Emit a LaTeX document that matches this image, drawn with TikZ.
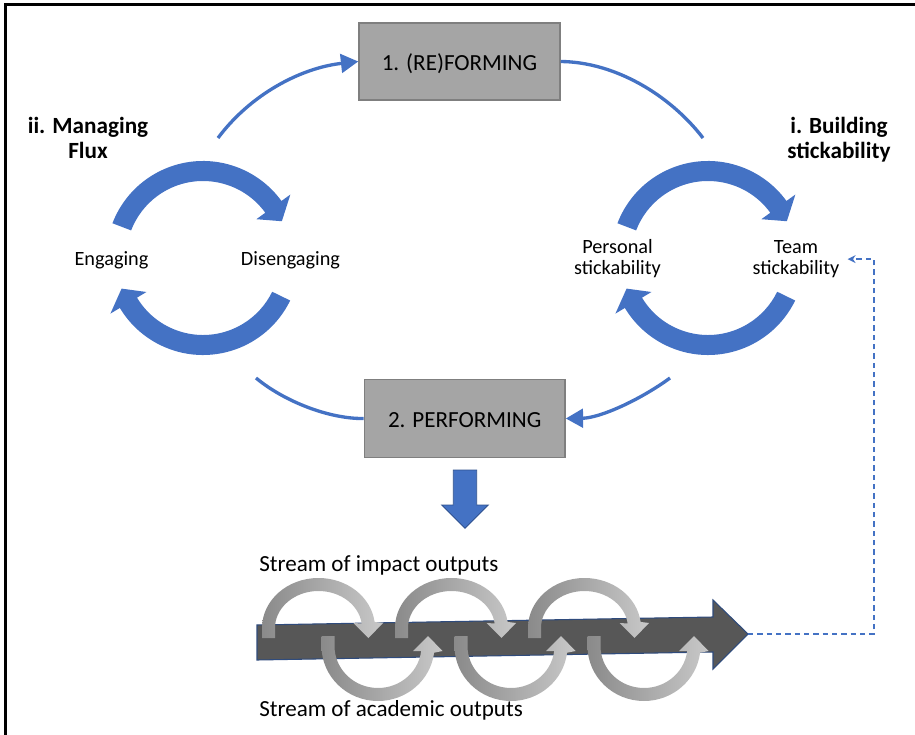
\documentclass[tikz,border=0pt]{standalone}
\usepackage{fontspec}
\setmainfont{Carlito}
\usetikzlibrary{arrows.meta}
\definecolor{flowblue}{HTML}{4472C4}
\definecolor{flowblueline}{HTML}{2F528F}
\definecolor{boxfill}{HTML}{A5A5A5}
\definecolor{boxline}{HTML}{7F7F7F}
\definecolor{streambody}{HTML}{575757}
\definecolor{streamline}{HTML}{2F4B7C}
\definecolor{loopdark}{HTML}{8A8A8A}
\definecolor{looplight}{HTML}{C8C8C8}
\newcommand{\bandarc}[4]{%
  \fill[flowblue, shift={#1}, yscale=-1] (#2:97) arc[start angle=#2, end angle=#3, radius=97]
    -- (#3:108) -- (#4:87) -- (#3:66) -- (#3:77) arc[start angle=#3, end angle=#2, radius=77] -- cycle;}
\newcommand{\upperloop}[1]{%
  \path[loopband, shift={(#1,628)}] (-56.5,10) -- (-56.5,0)
    arc[start angle=180, end angle=353, x radius=56.5, y radius=50]
    -- (64.5,-5) -- (50,10) -- (35,-5) -- ({43.5*cos(353)},{37*sin(353)})
    arc[start angle=353, end angle=180, x radius=43.5, y radius=37]
    -- (-43.5,10) -- cycle;}
\newcommand{\lowerloop}[1]{%
  \path[loopband, shift={(#1,646)}] (-56.5,-10) -- (-56.5,0)
    arc[start angle=180, end angle=7, x radius=56.5, y radius=55]
    -- (64.5,5) -- (50,-10) -- (35,5) -- ({43.5*cos(7)},{42*sin(7)})
    arc[start angle=7, end angle=180, x radius=43.5, y radius=42]
    -- (-43.5,-10) -- cycle;}
\begin{document}
\begin{tikzpicture}[x=0.75pt,y=-0.75pt,
  stagebox/.style={draw=boxline, line width=1.1pt, fill=boxfill, inner sep=0pt,
    text height=12.8pt, text depth=0pt, font=\fontsize{17.3}{20}\selectfont},
  headlabel/.style={font=\fontsize{17.4}{19.5}\selectfont\bfseries, align=center, inner sep=0pt, anchor=base},
  cyclelabel/.style={font=\fontsize{15.2}{15.8}\selectfont, align=center, inner sep=0pt, anchor=base},
  streamlabel/.style={font=\fontsize{17.3}{20}\selectfont, inner sep=0pt, anchor=base west},
  thinflow/.style={draw=flowblue, line width=2.5pt},
  flowtip/.style={-{Triangle[length=13pt,width=14pt]}},
  loopband/.style={left color=loopdark, right color=looplight, draw=none},
  feedback/.style={draw=flowblue, line width=1.1pt, dash pattern=on 4pt off 3pt, -{Stealth[length=6pt,width=6pt]}}
]
\useasboundingbox (0,0) rectangle (915,735);
\draw[line width=1.6pt] (5.5,735) -- (5.5,4.5) -- (915,4.5);

% stage boxes
\node[stagebox, minimum width=150.75pt, minimum height=57.75pt] (reform) at (459.5,61.5) {1. (RE)FORMING};
\node[stagebox, minimum width=150.5pt, minimum height=58.8pt] (perform) at (464.7,418.5) {2. PERFORMING};

% heading labels (anchor = baseline of last line)
\node[headlabel] (fluxhead) at (88,159) {ii. Managing\\Flux};
\node[headlabel] (stickhead) at (839,159) {i. Building\\stickability};

% cycle labels
\node[cyclelabel] (engage) at (111.5,265) {Engaging};
\node[cyclelabel] (disengage) at (290.5,265) {Disengaging};
\node[cyclelabel] (personal) at (617.5,274.5) {Personal\\stickability};
\node[cyclelabel] (team) at (796,274.5) {Team\\stickability};

% circular band arrows
\bandarc{(203,258)}{159}{36}{25}
\bandarc{(203,258)}{-26}{-149}{-159.4}
\bandarc{(708,258)}{159}{36}{25}
\bandarc{(708,258)}{-26}{-149}{-159.4}

% thin connectors
\coordinate (fluxtop) at (218,138);
\coordinate (stickytop) at (703,138);
\coordinate (fluxbottom) at (256,378);
\coordinate (stickybottom) at (670,378);
\draw[thinflow, flowtip] (fluxtop) .. controls (250,95) and (300,68) .. (reform.west);
\draw[thinflow] (reform.east) .. controls (615,62) and (670,95) .. (stickytop);
\draw[thinflow] (fluxbottom) .. controls (285,402) and (330,419) .. (perform.west);
\draw[thinflow, flowtip] (stickybottom) .. controls (640,400) and (600,418) .. (perform.east);

% down block arrow
\draw[fill=flowblue, draw=flowblueline, line width=0.6pt]
  (453.3,470) -- (476.7,470) -- (476.7,505) -- (488.3,505) -- (465,528.3)
  -- (441.7,505) -- (453.3,505) -- cycle;

% stream arrow
\draw[fill=streambody, draw=streamline, line width=0.8pt]
  (257,625) -- (713,617) -- (713,600) -- (748,634) -- (713,669) -- (713,652) -- (257,660) -- cycle;
\coordinate (streamtip) at (748,634);

\upperloop{318.5}
\upperloop{451.5}
\upperloop{584.5}
\lowerloop{378}
\lowerloop{511}
\lowerloop{644}

\node[streamlabel] (impact) at (259,571) {Stream of impact outputs};
\node[streamlabel] (academic) at (259,716) {Stream of academic outputs};

% feedback dashed connector
\coordinate (fbcorner) at (874,634);
\draw[feedback] (streamtip) -- (fbcorner) |- ([xshift=6pt]team.east);
\end{tikzpicture}
\end{document}
